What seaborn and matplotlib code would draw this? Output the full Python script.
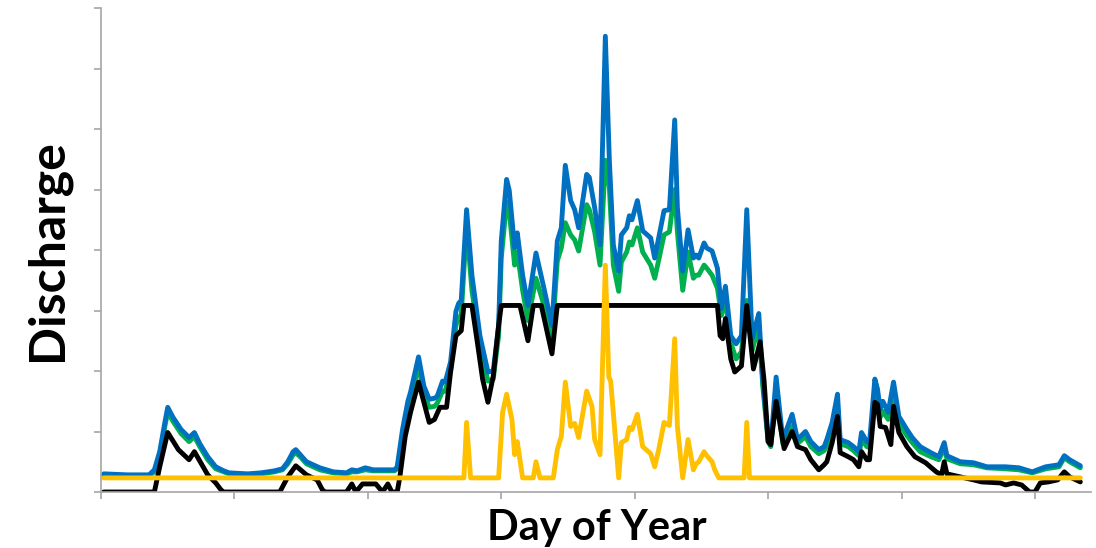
import matplotlib
matplotlib.use("Agg")
import matplotlib.pyplot as plt
import seaborn as sns
import pandas as pd

# Daily discharge series (day of year, discharge)
inflow_days = [1, 10, 18, 20, 22, 24, 25, 27, 30, 33, 35, 37, 40, 43, 46, 48, 55, 60, 65, 68,
               70, 72, 73, 75, 77, 82, 87, 92, 94, 96, 99, 102, 106, 110, 111, 113, 115, 116, 119, 121,
               123, 125, 126, 128, 129, 131, 133, 134, 135, 137, 139, 142, 145, 147, 149, 150, 152, 153, 155, 156,
               158, 160, 163, 166, 169, 171, 172.5, 174, 176, 177.5, 179, 182, 183, 185, 187, 189, 190.5, 192, 194, 195,
               197, 198, 199, 201, 203, 206, 207.5, 209, 211, 213, 215, 216, 218, 220, 222, 223, 224, 226, 227, 229,
               231, 232.5, 234, 236, 238, 240, 242, 244, 246.5, 248, 250, 251, 253, 255.5, 259, 261, 264, 266, 269, 271,
               272, 274, 276, 277, 280, 282, 284, 285, 287, 288, 290, 291, 292, 293, 295, 297, 299, 302, 304, 307,
               311, 314, 316, 317, 322, 327, 332, 339, 344, 349, 354, 359, 361, 363, 367]
inflow_q = [18, 17, 17, 22, 40, 70, 84, 74, 62, 54, 59, 48, 35, 25, 21, 19, 18, 19, 21, 23,
            30, 40, 42, 36, 30, 24, 20, 19, 22, 21, 24, 22, 22, 22, 25, 62, 90, 99, 134, 105,
            92, 93, 95, 110, 109, 129, 179, 187, 190, 280, 215, 155, 119, 120, 165, 249, 310, 299, 242, 257,
            215, 185, 237, 202, 165, 249, 262, 324, 289, 280, 262, 315, 312, 282, 245, 452, 329, 245, 219, 255,
            262, 274, 270, 289, 259, 252, 232, 252, 279, 280, 369, 282, 219, 260, 232, 235, 232, 247, 242, 239,
            222, 182, 204, 155, 147, 155, 280, 152, 177, 110, 52, 47, 114, 52, 77, 52, 60, 50, 42, 45,
            52, 69, 97, 52, 49, 45, 40, 59, 50, 49, 112, 102, 82, 90, 79, 109, 75, 62, 54, 45,
            39, 35, 49, 36, 30, 29, 25, 25, 24, 20, 25, 27, 36, 32, 26]

routed_days = inflow_days
routed_q = [17, 16, 16, 20, 37, 66, 79, 70, 58, 50, 55, 45, 32, 23, 20, 18, 17, 18, 20, 22,
            28, 37, 39, 34, 28, 22, 19, 18, 20, 20, 22, 21, 21, 21, 23, 55, 82, 92, 125, 98,
            84, 85, 88, 100, 100, 120, 165, 172, 176, 265, 200, 145, 110, 112, 155, 232, 288, 278, 225, 238,
            200, 170, 212, 185, 152, 229, 242, 267, 255, 250, 239, 285, 280, 258, 225, 329, 302, 225, 199, 228,
            238, 248, 245, 262, 238, 225, 212, 230, 255, 258, 300, 258, 200, 238, 212, 215, 215, 225, 222, 215,
            202, 175, 192, 148, 132, 139, 190, 140, 165, 105, 50, 45, 99, 48, 65, 48, 55, 45, 38, 41,
            46, 60, 85, 48, 45, 41, 36, 52, 45, 44, 99, 92, 74, 80, 72, 95, 68, 56, 49, 40,
            35, 32, 44, 33, 28, 27, 24, 23, 22, 19, 23, 25, 34, 30, 24]

diverted_days = [1, 20, 22, 25, 29, 33, 35, 40, 43, 45, 46, 67, 70, 73, 77, 81, 83, 84, 92, 94,
                 95.5, 98, 103, 105.5, 107.5, 109, 111, 112, 114, 116, 119, 121, 123, 125, 127, 129.5, 131, 133, 135, 136,
                 139, 141, 143, 145, 147, 149, 150, 157, 160, 162, 165, 169, 171, 231, 232, 233, 234, 236, 237.5, 240,
                 242, 244.5, 247, 248.5, 250, 251, 253, 256, 259, 261, 264, 266, 269, 271, 272, 274, 276, 277, 280, 282,
                 284, 285, 287, 288, 290, 291, 292, 294, 296, 297, 299, 302, 305, 309, 313, 315, 316, 317, 322, 327,
                 330, 337, 339, 342, 345, 348, 350, 352, 355, 358.5, 361, 363, 367]
diverted_q = [0, 0, 25, 59, 42, 32, 40, 17, 9, 2, 0, 0, 15, 26, 17, 12, 2, 0, 0, 8,
              0, 8, 8, 0, 8, 0, 0, 15, 55, 79, 109, 89, 69, 72, 84, 84, 119, 155, 160, 185,
              185, 149, 112, 89, 115, 165, 185, 185, 150, 185, 185, 137, 185, 185, 155, 152, 172, 132, 119, 125,
              185, 122, 149, 110, 50, 47, 90, 43, 60, 45, 42, 32, 22, 27, 30, 49, 75, 39, 35, 32,
              25, 40, 32, 32, 89, 87, 65, 64, 47, 85, 59, 45, 35, 29, 20, 17, 30, 18, 15, 12,
              10, 9, 7, 9, 7, 0, 0, 9, 10, 12, 20, 15, 10]

bypass_days = [1, 136, 137, 138.5, 149, 150.5, 152, 154, 155, 156, 158, 162, 163, 164.5, 169.5, 171, 172.5, 174, 176, 177.5,
               179, 182, 184, 185, 187, 189, 190.3, 191, 194, 195, 197, 198, 199, 201, 203, 206, 207.5, 209, 211, 213,
               215, 216, 218, 220, 222, 223, 224, 226, 227, 229, 230, 231.5, 241, 242, 243, 367]
bypass_q = [14, 14, 69, 14, 14, 79, 97, 72, 37, 50, 14, 14, 30, 14, 14, 42, 55, 109, 65, 68,
            54, 100, 85, 52, 37, 225, 114, 110, 14, 49, 52, 64, 62, 77, 45, 38, 25, 42, 69, 66,
            152, 65, 14, 52, 22, 28, 30, 40, 36, 30, 22, 14, 14, 69, 14, 14]

series_names = ["Routed", "Inflow", "Diverted", "Bypass"]
series_colors = ["#00B050", "#0070C0", "#000000", "#FFC000"]

frames = []
for name, d, q in [("Routed", routed_days, routed_q), ("Inflow", inflow_days, inflow_q),
                   ("Diverted", diverted_days, diverted_q), ("Bypass", bypass_days, bypass_q)]:
    frames.append(pd.DataFrame({"day": d, "discharge": q, "series": name}))
df = pd.concat(frames, ignore_index=True)

sns.set_style("white")
plt.rcParams["font.family"] = ["Lato", "DejaVu Sans"]

fig = plt.figure(figsize=(10.96, 5.48), dpi=100)
ax = fig.add_axes([101 / 1096, 56 / 548, 990 / 1096, 484 / 548])

sns.lineplot(data=df, x="day", y="discharge", hue="series", hue_order=series_names,
             palette=series_colors, estimator=None, sort=False, linewidth=3.5,
             solid_joinstyle="round", solid_capstyle="round",
             legend=False, ax=ax)

ax.set_xlim(0, 371)
ax.set_ylim(0, 480)
ax.set_xticks(range(0, 351, 50))
ax.set_yticks(range(0, 481, 60))
ax.set_xticklabels([])
ax.set_yticklabels([])
ax.set_xlabel("")
ax.set_ylabel("")
for side in ["top", "right"]:
    ax.spines[side].set_visible(False)
for side in ["left", "bottom"]:
    ax.spines[side].set_color("#A6A6A6")
    ax.spines[side].set_linewidth(1.2)
ax.tick_params(axis="both", which="major", direction="out", length=5, width=1.2,
               color="#A6A6A6", left=True, bottom=True)

fig.text(597 / 1096, 1 - 528 / 548, "Day of Year", ha="center", va="center",
         fontsize=30, fontweight="bold", color="black")
fig.text(47 / 1096, 1 - 250 / 548, "Discharge", ha="center", va="center",
         rotation=90, fontsize=36, fontweight="bold", color="black")

fig.savefig("out.png", dpi=100)
